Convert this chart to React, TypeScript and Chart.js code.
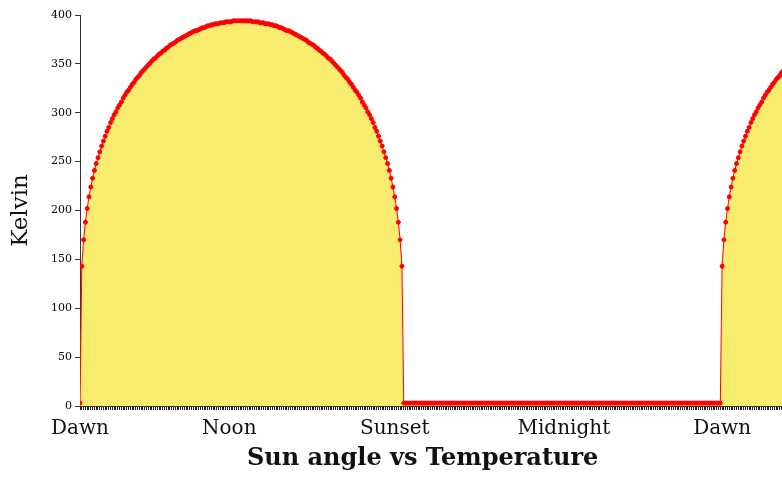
import { useEffect, useRef } from 'react';
import { Chart, registerables } from 'chart.js';

Chart.register(...registerables);

// Temperature (Kelvin) at each sample of sun angle.
// samples 0..90 (dawn to noon)
const morningTemps: number[] = [
  3, 143, 170, 188, 202, 214, 224, 233, 241, 248,
  254, 260, 266, 271, 276, 281, 285, 290, 294, 298,
  301, 305, 308, 311, 315, 318, 321, 323, 326, 329,
  331, 334, 336, 338, 341, 343, 345, 347, 349, 351,
  353, 355, 356, 358, 360, 361, 363, 364, 366, 367,
  369, 370, 371, 372, 374, 375, 376, 377, 378, 379,
  380, 381, 382, 383, 384, 384, 385, 386, 387, 387,
  388, 389, 389, 390, 390, 391, 391, 391, 392, 392,
  392, 393, 393, 393, 393, 394, 394, 394, 394, 394,
  394,
];

// samples 91..180 (noon to sunset)
const afternoonTemps: number[] = [
  394, 394, 394, 394, 394, 393, 393, 393, 393, 392,
  392, 392, 391, 391, 391, 390, 390, 389, 389, 388,
  387, 387, 386, 385, 384, 384, 383, 382, 381, 380,
  379, 378, 377, 376, 375, 374, 372, 371, 370, 369,
  367, 366, 364, 363, 361, 360, 358, 356, 355, 353,
  351, 349, 347, 345, 343, 341, 338, 336, 334, 331,
  329, 326, 323, 321, 318, 315, 311, 308, 305, 301,
  298, 294, 290, 285, 281, 276, 271, 266, 260, 254,
  248, 241, 233, 224, 214, 202, 188, 170, 143, 3,
];

// samples 181..355 (night)
const nightTemps: number[] = [
  3, 3, 3, 3, 3, 3, 3, 3, 3, 3, 3, 3, 3, 3, 3, 3, 3, 3, 3, 3,
  3, 3, 3, 3, 3, 3, 3, 3, 3, 3, 3, 3, 3, 3, 3, 3, 3, 3, 3, 3,
  3, 3, 3, 3, 3, 3, 3, 3, 3, 3, 3, 3, 3, 3, 3, 3, 3, 3, 3, 3,
  3, 3, 3, 3, 3, 3, 3, 3, 3, 3, 3, 3, 3, 3, 3, 3, 3, 3, 3, 3,
  3, 3, 3, 3, 3, 3, 3, 3, 3, 3, 3, 3, 3, 3, 3, 3, 3, 3, 3, 3,
  3, 3, 3, 3, 3, 3, 3, 3, 3, 3, 3, 3, 3, 3, 3, 3, 3, 3, 3, 3,
  3, 3, 3, 3, 3, 3, 3, 3, 3, 3, 3, 3, 3, 3, 3, 3, 3, 3, 3, 3,
  3, 3, 3, 3, 3, 3, 3, 3, 3, 3, 3, 3, 3, 3, 3, 3, 3, 3, 3, 3,
  3, 3, 3, 3, 3, 3, 3, 3, 3, 3, 3, 3, 3, 3, 3,
];

// samples 356..392 (next dawn onwards)
const nextMorningTemps: number[] = [
  3, 143, 170, 188, 202, 214, 224, 233, 241, 248,
  254, 260, 266, 271, 276, 281, 285, 290, 294, 298,
  301, 305, 308, 311, 315, 318, 321, 323, 326, 329,
  331, 334, 336, 338, 341, 343, 345,
];

const tickPositions: number[] = [0, 83, 175, 269, 357];
const tickLabels: string[] = ['Dawn', 'Noon', 'Sunset', 'Midnight', 'Dawn'];
const yTicks: number[] = [0, 50, 100, 150, 200, 250, 300, 350, 400];
const xMax = 390.3;

const FONT = "'DejaVu Serif', serif";

export default function App() {
  const canvasRef = useRef<HTMLCanvasElement | null>(null);

  useEffect(() => {
    if (!canvasRef.current) return;
    const temps = [...morningTemps, ...afternoonTemps, ...nightTemps, ...nextMorningTemps];
    const points = temps.map((t, i) => ({ x: i, y: t }));

    const chart = new Chart(canvasRef.current, {
      type: 'line',
      data: {
        datasets: [
          {
            label: 'Temperature',
            data: points,
            borderColor: 'rgb(255,0,0)',
            borderWidth: 1,
            backgroundColor: 'rgb(248,236,110)',
            fill: 'origin',
            tension: 0,
            pointRadius: 2,
            pointBorderWidth: 1,
            pointBackgroundColor: 'rgb(255,0,0)',
            pointBorderColor: 'rgb(255,0,0)',
          },
        ],
      },
      options: {
        animation: false,
        responsive: true,
        maintainAspectRatio: false,
        layout: { padding: { top: 15, left: 0, right: 0, bottom: 0 }, autoPadding: false },
        plugins: {
          legend: { display: false },
          tooltip: { enabled: false },
          title: {
            display: true,
            position: 'bottom',
            fullSize: false,
            text: 'Sun angle vs Temperature  ',
            color: '#111',
            font: { family: FONT, size: 24, weight: 'bold' },
            padding: { top: 1, bottom: 12.2 },
          },
        },
        scales: {
          x: {
            type: 'linear',
            min: 0,
            max: xMax,
            afterFit: (scale: any) => {
              scale.height = 37;
            },
            border: { display: true, color: '#333' },
            grid: {
              display: true,
              drawOnChartArea: false,
              drawTicks: true,
              tickLength: 4,
              color: '#222',
            },
            ticks: {
              stepSize: 1,
              autoSkip: false,
              includeBounds: false,
              maxRotation: 0,
              minRotation: 0,
              padding: 0,
              color: '#111',
              font: { family: FONT, size: 20, lineHeight: 1.9 },
              callback: (v: any) => {
                const k = tickPositions.indexOf(Number(v));
                return k >= 0 ? tickLabels[k] : '';
              },
            },
          },
          y: {
            min: 0,
            max: 400,
            afterFit: (scale: any) => {
              scale.width = 80;
            },
            afterBuildTicks: (scale: any) => {
              scale.ticks = yTicks.map((v) => ({ value: v }));
            },
            border: { display: true, color: '#333' },
            grid: {
              display: true,
              drawOnChartArea: false,
              drawTicks: true,
              tickLength: 5,
              color: '#333',
            },
            ticks: {
              padding: 3,
              color: '#000',
              font: { family: FONT, size: 11 },
            },
            title: {
              display: true,
              text: 'Kelvin',
              color: '#111',
              font: { family: FONT, size: 23 },
              padding: { top: 7, bottom: 4 },
            },
          },
        },
      },
    });
    return () => chart.destroy();
  }, []);

  return (
    <div
      style={{
        position: 'fixed',
        left: 0,
        top: 0,
        width: '782px',
        height: '485px',
        background: '#fff',
      }}
    >
      <canvas ref={canvasRef} />
    </div>
  );
}
